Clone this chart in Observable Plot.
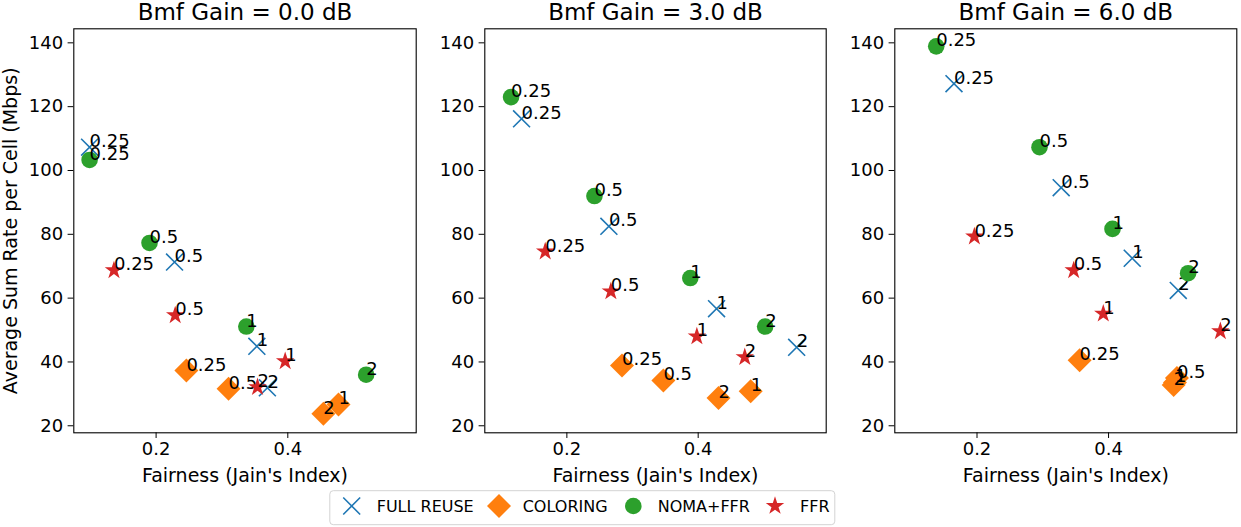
<!DOCTYPE html>
<html>
<head>
<meta charset="utf-8">
<script src="https://cdn.jsdelivr.net/npm/d3@7"></script>
<script src="https://cdn.jsdelivr.net/npm/@observablehq/plot@0.6"></script>
<style>
  body { margin: 0; background: #fff; font-family: "DejaVu Sans", sans-serif; }
  #wrap { position: relative; width: 1241px; height: 527px; overflow: hidden; }
  .panel { position: absolute; top: 0; }
</style>
</head>
<body>
<div id="wrap"></div>
<script>
// values, one row per gain (0, 3, 6 dB), one column per param
const gains = ["0.0", "3.0", "6.0"];
const params = [0.25, 0.5, 1, 2];
const schemes = ["FULL REUSE", "COLORING", "NOMA+FFR", "FFR"];

const fullReuseFair = [[0.099, 0.228, 0.353, 0.369], [0.131, 0.264, 0.428, 0.550], [0.165, 0.328, 0.436, 0.506]];
const fullReuseRate = [[107.3, 71.3, 44.9, 31.9], [116.2, 82.5, 56.7, 44.6], [127.2, 94.6, 72.5, 62.4]];
const coloringFair = [[0.246, 0.310, 0.477, 0.454], [0.284, 0.347, 0.480, 0.431], [0.356, 0.504, 0.501, 0.499]];
const coloringRate = [[37.3, 31.6, 26.7, 23.8], [38.9, 34.2, 30.8, 28.7], [40.5, 35.0, 33.6, 32.8]];
const nomaFair = [[0.099, 0.190, 0.337, 0.519], [0.115, 0.242, 0.388, 0.502], [0.138, 0.295, 0.406, 0.521]];
const nomaRate = [[103.3, 77.3, 51.1, 36.0], [123.0, 92.0, 66.3, 51.1], [138.9, 107.3, 81.7, 67.8]];
const ffrFair = [[0.136, 0.229, 0.396, 0.354], [0.167, 0.267, 0.398, 0.471], [0.196, 0.347, 0.392, 0.570]];
const ffrRate = [[68.7, 54.6, 40.2, 32.1], [74.6, 62.1, 48.0, 41.5], [79.3, 68.7, 55.1, 49.6]];

const yTicks = [20, 40, 60, 80, 100, 120, 140];
const xTicks = [0.2, 0.4];

const fairAll = [fullReuseFair, coloringFair, nomaFair, ffrFair];
const rateAll = [fullReuseRate, coloringRate, nomaRate, ffrRate];

const colors = ["#1f77b4", "#ff7f0e", "#2ca02c", "#d62728"];
const symbols = ["times", "diamond2", "circle", "star"];
const radii = [7.75, 10.8, 8.3, 5.8];

const font = "DejaVu Sans";

// layout of the three panels
const lefts = [0, 420, 830];
const widths = [420, 410, 411];
const mLeft = [73.3, 64.3, 64.3];
const mRight = [4.3, 4.3, 4.7];

function dotStyle(s) {
  if (symbols[s] == "times") return {stroke: colors[s], strokeWidth: 1.6, fill: "none"};
  return {fill: colors[s], stroke: "none"};
}

function createPanel(g) {
  const marks = [
    Plot.frame({stroke: "black", strokeWidth: 1.1}),
    Plot.axisY({ticks: yTicks, tickSize: 5.7, tickPadding: 5, fontSize: 18, label: null}),
    Plot.axisX({ticks: xTicks, tickSize: 5.7, tickPadding: 4, fontSize: 18, label: null, tickFormat: d => d.toFixed(1)})
  ];
  schemes.forEach((name, s) => {
    const rows = params.map((p, i) => ({p, fair: fairAll[s][g][i], rate: rateAll[s][g][i]}));
    marks.push(Plot.dot(rows, {x: "fair", y: "rate", symbol: symbols[s], r: radii[s], ...dotStyle(s)}));
    marks.push(Plot.text(rows, {
      x: "fair", y: "rate", text: d => String(d.p),
      textAnchor: "start", lineAnchor: "bottom", fontSize: 18, fill: "black"
    }));
  });
  marks.push(Plot.text([`Bmf Gain = ${gains[g]} dB`], {frameAnchor: "top", dy: -16, textAnchor: "middle", lineAnchor: "middle", fontSize: 23, fill: "black"}));
  marks.push(Plot.text(["Fairness (Jain's Index)"], {frameAnchor: "bottom", dy: 43, textAnchor: "middle", lineAnchor: "middle", fontSize: 19, fill: "black"}));
  if (g == 0) {
    marks.push(Plot.text(["Average Sum Rate per Cell (Mbps)"], {frameAnchor: "left", dx: -63, rotate: -90, textAnchor: "middle", lineAnchor: "middle", fontSize: 19, fill: "black"}));
  }

  const chart = Plot.plot({
    width: widths[g],
    height: 490,
    marginLeft: mLeft[g],
    marginRight: mRight[g],
    marginTop: 28.3,
    marginBottom: 57.7,
    style: {fontFamily: font, background: "transparent", overflow: "visible"},
    x: {domain: [0.075, 0.595]},
    y: {domain: [17.8, 144.4]},
    marks
  });

  d3.select("#wrap").append("div")
    .attr("class", "panel")
    .style("left", lefts[g] + "px")
    .append(() => chart);
}

gains.forEach((d, g) => createPanel(g));

// legend below the panels
const legX = [351.7, 499, 633.3, 775];
const legTextX = [376.7, 522.7, 657.7, 800];

const leg = d3.select("#wrap").append("svg")
  .attr("width", 1241).attr("height", 37)
  .style("position", "absolute").style("left", "0px").style("top", "490px");

leg.append("rect")
  .attr("x", 329.8).attr("y", 0.7).attr("width", 505).attr("height", 34)
  .attr("rx", 3.5).attr("fill", "white").attr("stroke", "#d3d3d3");

const d3sym = {times: d3.symbolTimes, diamond2: d3.symbolDiamond2, circle: d3.symbolCircle, star: d3.symbolStar};

schemes.forEach((name, s) => {
  const st = dotStyle(s);
  leg.append("path")
    .attr("transform", `translate(${legX[s]},16)`)
    .attr("d", d3.symbol(d3sym[symbols[s]], Math.PI * radii[s] * radii[s])())
    .attr("fill", st.fill).attr("stroke", st.stroke).attr("stroke-width", st.strokeWidth || 0);
  leg.append("text")
    .attr("x", legTextX[s]).attr("y", 16).attr("dy", "0.35em")
    .attr("font-family", font).attr("font-size", 16).attr("fill", "black")
    .text(name);
});
</script>
</body>
</html>
